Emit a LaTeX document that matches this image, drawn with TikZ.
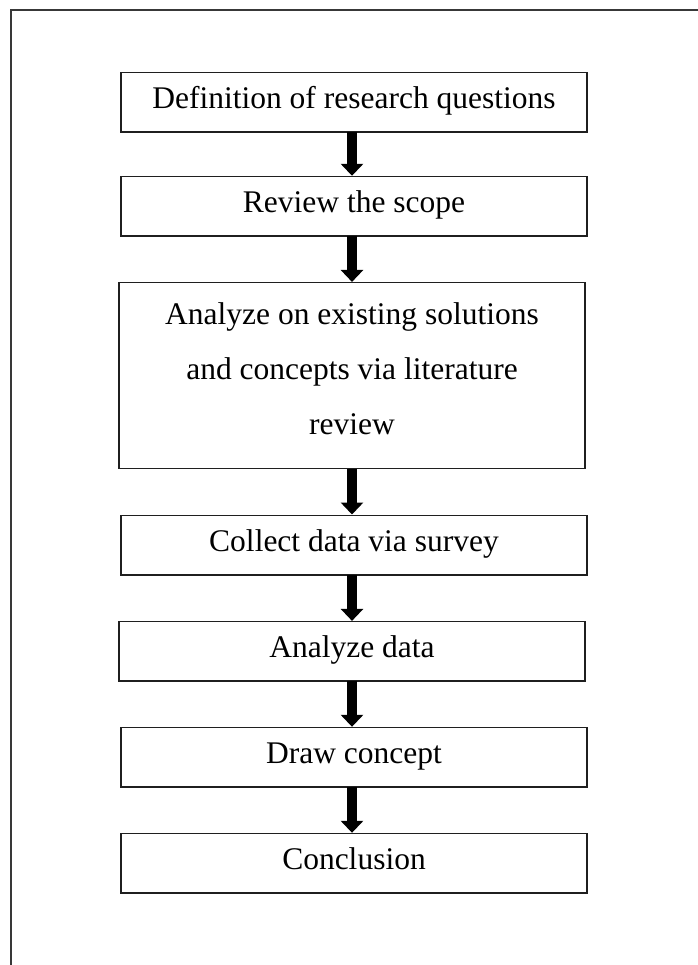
\documentclass[tikz,border=0pt]{standalone}
\usepackage{fontspec}
\setmainfont{Liberation Serif}
\usetikzlibrary{arrows.meta}
\begin{document}
\begin{tikzpicture}[x=1pt,y=-1pt,
  stepbox/.style={draw=black!88, line width=1.5pt, inner sep=0pt,
    minimum width=466pt, minimum height=59.5pt,
    text height=36pt, text depth=23.5pt,
    font=\fontsize{31.5}{55}\selectfont},
  bigarrow/.style={line width=10.5pt, black,
    -{Triangle[width=22pt,length=12pt]}, shorten <=-0.75pt}]
  \useasboundingbox (0,0) rectangle (697,965);
  % outer frame, open towards the bottom and right edges
  \draw[line width=2pt, black!78] (11,966) -- (11,10) -- (698,10);
  % process steps
  \node[stepbox] (s1) at (354,102.4) {Definition of research questions};
  \node[stepbox] (s2) at (354,206.3) {Review the scope};
  \node[stepbox, minimum height=186pt, text height=, text depth=, align=center]
    (s3) at (352,375.7) {Analyze on existing solutions\\and concepts via literature\\review\rule[-14pt]{0pt}{0pt}};
  \node[stepbox] (s4) at (354,545) {Collect data via survey};
  \node[stepbox] (s5) at (352,651.4) {Analyze data};
  \node[stepbox] (s6) at (354,757.3) {Draw concept};
  \node[stepbox] (s7) at (354,863.3) {Conclusion};
  % connectors
  \foreach \a/\b in {s1/s2,s2/s3,s3/s4,s4/s5,s5/s6,s6/s7}
    \draw[bigarrow] (352,0 |- \a.south) -- (352,0 |- \b.north);
\end{tikzpicture}
\end{document}
